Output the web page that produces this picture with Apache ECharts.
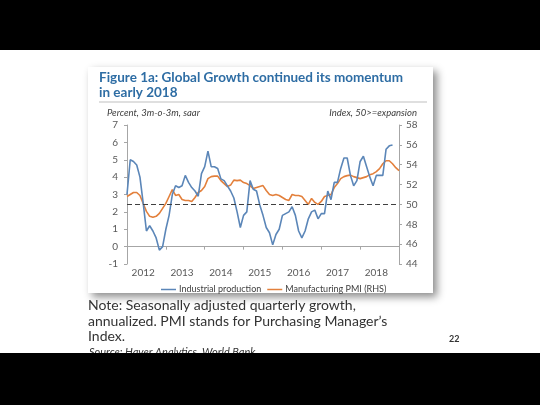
<!DOCTYPE html>
<html>
<head>
<meta charset="utf-8">
<script src="https://cdn.jsdelivr.net/npm/echarts@6/dist/echarts.min.js"></script>
<style>
html,body{margin:0;padding:0;background:#fff;}
#c{width:540px;height:405px;}
</style>
</head>
<body>
<div id="c"></div>
<script>
// Monthly categories Jan 2012 .. Jan 2019
const years = ['2012','2013','2014','2015','2016','2017','2018'];
const months = [];
for (let y = 2012; y <= 2018; y++) for (let m = 1; m <= 12; m++) months.push(y + '-' + (m < 10 ? '0' + m : m));
months.push('2019-01');

const industrialProduction = [
 3.0, 5.0, 4.9, 4.7, 4.0, 2.5, 0.9, 1.2, 0.9, 0.5, -0.2, 0.0,
 1.0, 1.8, 3.0, 3.5, 3.4, 3.5, 4.1, 3.7, 3.4, 3.2, 2.9, 4.2,
 4.6, 5.5, 4.6, 4.6, 4.5, 3.9, 3.8, 3.5, 3.2, 2.8, 2.0, 1.1,
 1.8, 2.0, 3.8, 3.3, 3.2, 2.4, 1.8, 1.1, 0.8, 0.1, 0.7, 1.0,
 1.8, 1.9, 2.0, 2.3, 1.8, 0.9, 0.5, 0.9, 1.6, 2.0, 2.1, 1.6,
 1.9, 1.9, 3.2, 2.7, 3.7, 3.7, 4.5, 5.1, 5.1, 4.1, 3.5, 3.8,
 4.9, 5.2, 4.6, 4.0, 3.5, 4.1, 4.1, 4.1, 5.6, 5.8, 5.85
];

const manufacturingPMI = [
 50.8, 51.0, 51.2, 51.2, 50.9, 50.1, 49.3, 48.8, 48.7, 48.8, 49.1, 49.6,
 50.1, 50.8, 51.5, 50.9, 51.0, 50.5, 50.4, 50.4, 50.3, 50.7, 51.2, 51.4,
 51.8, 52.6, 52.8, 52.85, 52.85, 52.4, 52.1, 51.8, 51.95, 52.45, 52.4, 52.45,
 52.2, 52.1, 51.9, 51.6, 51.7, 51.8, 51.9, 51.4, 51.0, 50.9, 51.0, 50.9,
 50.7, 50.5, 50.4, 51.0, 50.9, 50.9, 50.8, 50.4, 50.0, 50.6, 50.2, 50.0,
 50.3, 50.8, 50.9, 51.0, 51.7, 52.1, 52.6, 52.8, 52.9, 52.95, 52.8, 52.7,
 52.6, 52.7, 52.8, 53.0, 53.1, 53.3, 53.6, 54.1, 54.4, 54.4, 54.1, 53.7, 53.4
];

const expansionThreshold = 50;

const chart = echarts.init(document.getElementById('c'), null, {renderer: 'canvas'});
const axisGray = '#a6a6a6';
const labelGray = '#595959';

chart.setOption({
  animation: false,
  backgroundColor: '#ffffff',
  grid: {left: 127, right: 141, top: 125, bottom: 141, containLabel: false},
  graphic: [
    {type: 'rect', z: -10, shape: {x: 88, y: 67, width: 345, height: 226},
     style: {fill: '#fff', shadowBlur: 8, shadowOffsetX: 4, shadowOffsetY: 4, shadowColor: 'rgba(0,0,0,0.45)'}},
    {type: 'text', left: 99, top: 70, style: {text: 'Figure 1a: Global Growth continued its momentum\nin early 2018',
      font: 'bold 13.5px Lato', fill: '#2e6da4', lineHeight: 15}},
    {type: 'line', shape: {x1: 99, y1: 102, x2: 427, y2: 102}, style: {stroke: '#bfbfbf', lineWidth: 1}},
    {type: 'text', left: 107, top: 108, style: {text: 'Percent, 3m-o-3m, saar', font: 'italic 9.5px Lato', fill: '#404040'}},
    {type: 'text', right: 123, top: 108, style: {text: 'Index, 50>=expansion', font: 'italic 9.5px Lato', fill: '#404040', textAlign: 'right'}},
    {type: 'text', left: 88, top: 298, style: {text: "Note: Seasonally adjusted quarterly growth,\nannualized. PMI stands for Purchasing Manager\u2019s\nIndex.",
      font: '14px Lato', fill: '#333333', lineHeight: 15.5}},
    {type: 'text', left: 89, top: 347, style: {text: 'Source: Haver Analytics, World Bank', font: 'italic 11px Lato', fill: '#333333'}},
    {type: 'text', left: 449, top: 335, style: {text: '22', font: 'bold 9px Lato', fill: '#333333'}},
    {type: 'rect', z: 100, shape: {x: 0, y: 0, width: 540, height: 50}, style: {fill: '#000'}},
    {type: 'rect', z: 100, shape: {x: 0, y: 353, width: 540, height: 52}, style: {fill: '#000'}}
  ],
  legend: {
    left: 156, top: 280, icon: 'rect', itemWidth: 15, itemHeight: 1.5, itemGap: 6,
    textStyle: {fontFamily: 'Lato', fontSize: 9, color: '#404040', padding: [0, 0, 0, -2]},
    data: ['Industrial production', 'Manufacturing PMI (RHS)']
  },
  xAxis: [
    {type: 'category', data: months, boundaryGap: false, position: 'bottom',
     axisLine: {show: false, onZero: false}, axisTick: {show: false}, splitLine: {show: false},
     axisLabel: {interval: (i) => i % 12 === 5 && i < 84, formatter: (v) => v.slice(0, 4),
       fontFamily: 'Lato', fontSize: 10, color: labelGray, margin: 4}},
    {type: 'category', data: months, boundaryGap: false, position: 'bottom',
     axisLine: {show: true, onZero: true, onZeroAxisIndex: 0, lineStyle: {color: axisGray, width: 1}},
     axisTick: {show: true, interval: 11, length: 3, lineStyle: {color: axisGray}},
     axisLabel: {show: false}, splitLine: {show: false}}
  ],
  yAxis: [
    {type: 'value', min: -1, max: 7, interval: 1, position: 'left',
     axisLine: {show: true, lineStyle: {color: axisGray}}, axisTick: {show: true, length: 3, lineStyle: {color: axisGray}},
     splitLine: {show: false}, axisLabel: {fontFamily: 'Lato', fontSize: 10, color: labelGray, margin: 9}},
    {type: 'value', min: 44, max: 58, interval: 2, position: 'right',
     axisLine: {show: true, lineStyle: {color: axisGray}}, axisTick: {show: true, length: 3, lineStyle: {color: axisGray}},
     splitLine: {show: false}, axisLabel: {fontFamily: 'Lato', fontSize: 10, color: labelGray, margin: 7}}
  ],
  series: [
    {name: 'Industrial production', type: 'line', xAxisIndex: 0, yAxisIndex: 0, data: industrialProduction,
     symbol: 'none', lineStyle: {color: '#5b86b8', width: 1.6}, itemStyle: {color: '#5b86b8'}, z: 3},
    {name: 'Manufacturing PMI (RHS)', type: 'line', xAxisIndex: 0, yAxisIndex: 1, data: manufacturingPMI,
     symbol: 'none', lineStyle: {color: '#e3803c', width: 1.6}, itemStyle: {color: '#e3803c'}, z: 2,
     markLine: {silent: true, symbol: 'none', label: {show: false},
       lineStyle: {color: '#404040', type: [5, 3], width: 1.2},
       data: [{yAxis: expansionThreshold}]}}
  ]
});
</script>
</body>
</html>
